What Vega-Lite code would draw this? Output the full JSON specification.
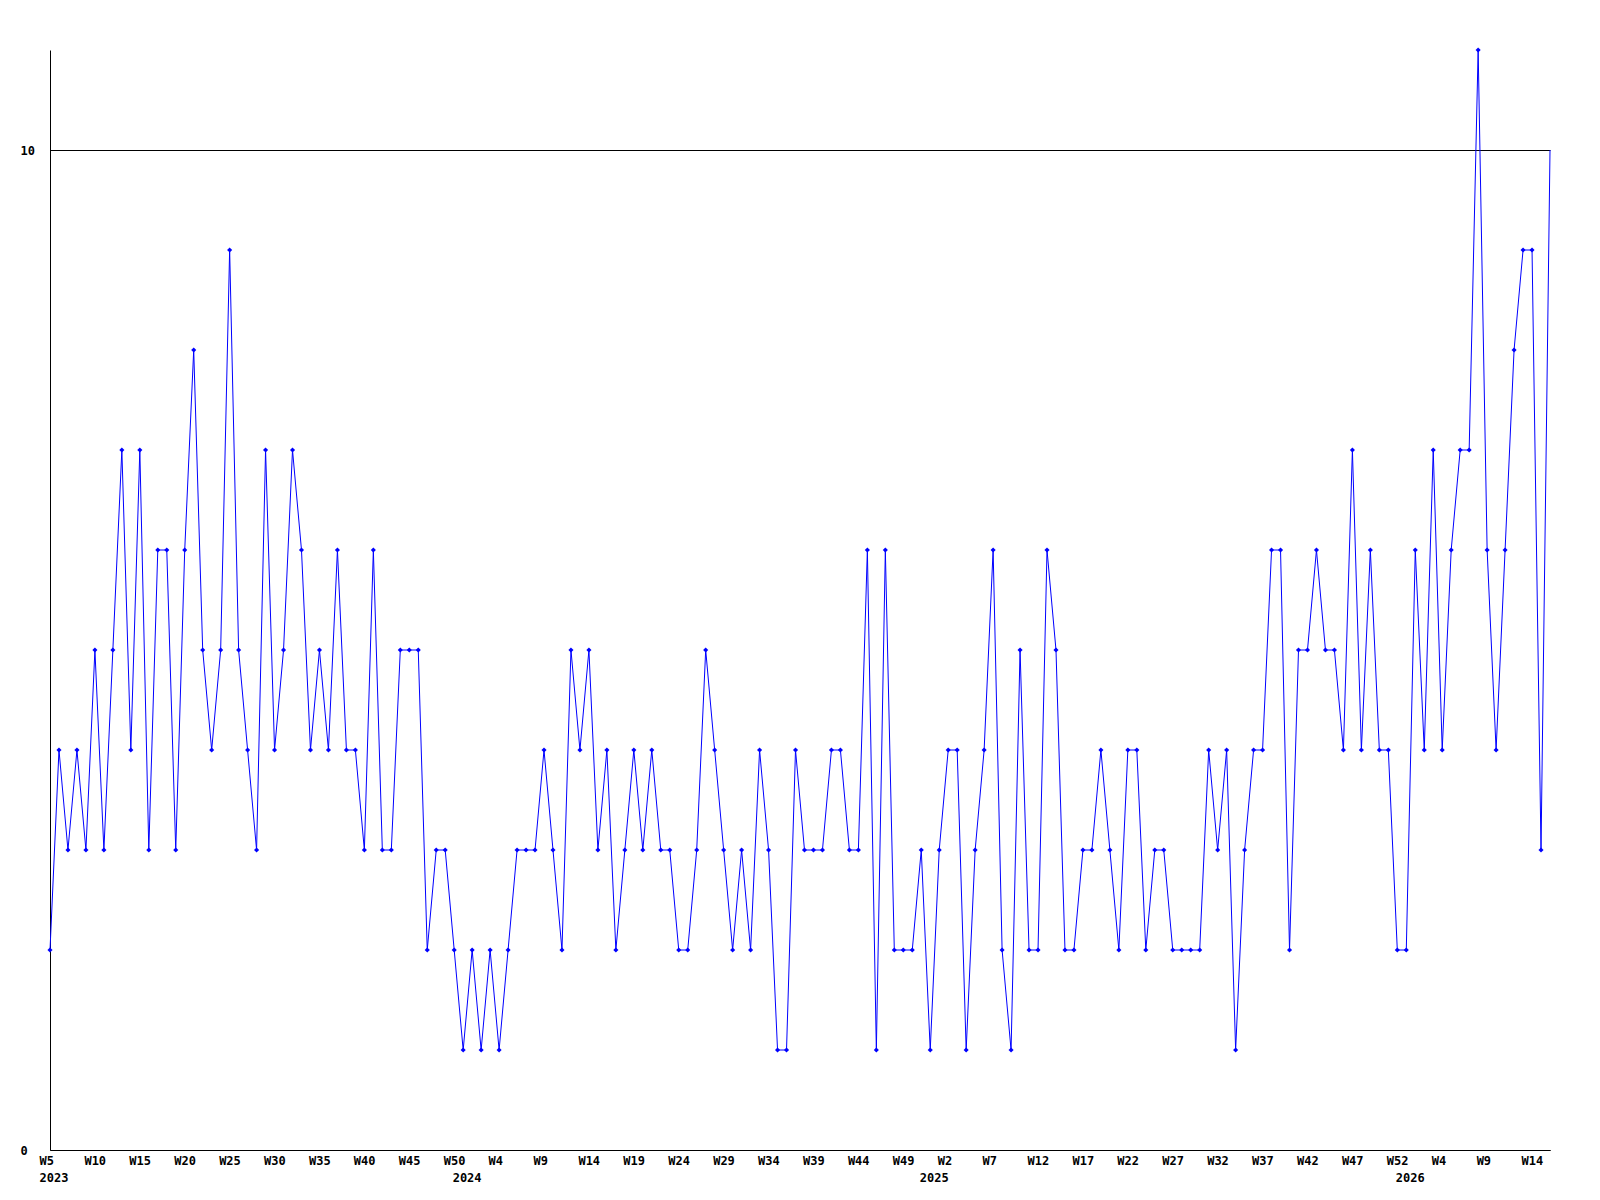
{
  "$schema": "https://vega.github.io/schema/vega-lite/v6.json",
  "width": 1500,
  "height": 1100,
  "autosize": {"type": "none"},
  "padding": {"left": 50, "top": 50, "right": 50, "bottom": 50},
  "background": "white",
  "config": {
    "view": {"stroke": null},
    "axis": {
      "labelFont": "DejaVu Sans Mono",
      "labelFontWeight": "bold",
      "labelFontSize": 12,
      "labelColor": "black",
      "domainColor": "black",
      "domainWidth": 1,
      "ticks": false,
      "tickSize": 0,
      "title": null
    }
  },
  "data": {
    "values": [
      {"week": "2023-W5", "v": 2}, {"week": "2023-W6", "v": 4}, {"week": "2023-W7", "v": 3}, {"week": "2023-W8", "v": 4}, {"week": "2023-W9", "v": 3},
      {"week": "2023-W10", "v": 5}, {"week": "2023-W11", "v": 3}, {"week": "2023-W12", "v": 5}, {"week": "2023-W13", "v": 7}, {"week": "2023-W14", "v": 4},
      {"week": "2023-W15", "v": 7}, {"week": "2023-W16", "v": 3}, {"week": "2023-W17", "v": 6}, {"week": "2023-W18", "v": 6}, {"week": "2023-W19", "v": 3},
      {"week": "2023-W20", "v": 6}, {"week": "2023-W21", "v": 8}, {"week": "2023-W22", "v": 5}, {"week": "2023-W23", "v": 4}, {"week": "2023-W24", "v": 5},
      {"week": "2023-W25", "v": 9}, {"week": "2023-W26", "v": 5}, {"week": "2023-W27", "v": 4}, {"week": "2023-W28", "v": 3}, {"week": "2023-W29", "v": 7},
      {"week": "2023-W30", "v": 4}, {"week": "2023-W31", "v": 5}, {"week": "2023-W32", "v": 7}, {"week": "2023-W33", "v": 6}, {"week": "2023-W34", "v": 4},
      {"week": "2023-W35", "v": 5}, {"week": "2023-W36", "v": 4}, {"week": "2023-W37", "v": 6}, {"week": "2023-W38", "v": 4}, {"week": "2023-W39", "v": 4},
      {"week": "2023-W40", "v": 3}, {"week": "2023-W41", "v": 6}, {"week": "2023-W42", "v": 3}, {"week": "2023-W43", "v": 3}, {"week": "2023-W44", "v": 5},
      {"week": "2023-W45", "v": 5}, {"week": "2023-W46", "v": 5}, {"week": "2023-W47", "v": 2}, {"week": "2023-W48", "v": 3}, {"week": "2023-W49", "v": 3},
      {"week": "2023-W50", "v": 2}, {"week": "2023-W51", "v": 1},
      {"week": "2024-W1", "v": 2}, {"week": "2024-W2", "v": 1}, {"week": "2024-W3", "v": 2}, {"week": "2024-W4", "v": 1}, {"week": "2024-W5", "v": 2},
      {"week": "2024-W6", "v": 3}, {"week": "2024-W7", "v": 3}, {"week": "2024-W8", "v": 3}, {"week": "2024-W9", "v": 4}, {"week": "2024-W10", "v": 3},
      {"week": "2024-W11", "v": 2}, {"week": "2024-W12", "v": 5}, {"week": "2024-W13", "v": 4}, {"week": "2024-W14", "v": 5}, {"week": "2024-W15", "v": 3},
      {"week": "2024-W16", "v": 4}, {"week": "2024-W17", "v": 2}, {"week": "2024-W18", "v": 3}, {"week": "2024-W19", "v": 4}, {"week": "2024-W20", "v": 3},
      {"week": "2024-W21", "v": 4}, {"week": "2024-W22", "v": 3}, {"week": "2024-W23", "v": 3}, {"week": "2024-W24", "v": 2}, {"week": "2024-W25", "v": 2},
      {"week": "2024-W26", "v": 3}, {"week": "2024-W27", "v": 5}, {"week": "2024-W28", "v": 4}, {"week": "2024-W29", "v": 3}, {"week": "2024-W30", "v": 2},
      {"week": "2024-W31", "v": 3}, {"week": "2024-W32", "v": 2}, {"week": "2024-W33", "v": 4}, {"week": "2024-W34", "v": 3}, {"week": "2024-W35", "v": 1},
      {"week": "2024-W36", "v": 1}, {"week": "2024-W37", "v": 4}, {"week": "2024-W38", "v": 3}, {"week": "2024-W39", "v": 3}, {"week": "2024-W40", "v": 3},
      {"week": "2024-W41", "v": 4}, {"week": "2024-W42", "v": 4}, {"week": "2024-W43", "v": 3}, {"week": "2024-W44", "v": 3}, {"week": "2024-W45", "v": 6},
      {"week": "2024-W46", "v": 1}, {"week": "2024-W47", "v": 6}, {"week": "2024-W48", "v": 2}, {"week": "2024-W49", "v": 2}, {"week": "2024-W50", "v": 2},
      {"week": "2024-W51", "v": 3}, {"week": "2024-W52", "v": 1},
      {"week": "2025-W1", "v": 3}, {"week": "2025-W2", "v": 4}, {"week": "2025-W3", "v": 4}, {"week": "2025-W4", "v": 1}, {"week": "2025-W5", "v": 3},
      {"week": "2025-W6", "v": 4}, {"week": "2025-W7", "v": 6}, {"week": "2025-W8", "v": 2}, {"week": "2025-W9", "v": 1}, {"week": "2025-W10", "v": 5},
      {"week": "2025-W11", "v": 2}, {"week": "2025-W12", "v": 2}, {"week": "2025-W13", "v": 6}, {"week": "2025-W14", "v": 5}, {"week": "2025-W15", "v": 2},
      {"week": "2025-W16", "v": 2}, {"week": "2025-W17", "v": 3}, {"week": "2025-W18", "v": 3}, {"week": "2025-W19", "v": 4}, {"week": "2025-W20", "v": 3},
      {"week": "2025-W21", "v": 2}, {"week": "2025-W22", "v": 4}, {"week": "2025-W23", "v": 4}, {"week": "2025-W24", "v": 2}, {"week": "2025-W25", "v": 3},
      {"week": "2025-W26", "v": 3}, {"week": "2025-W27", "v": 2}, {"week": "2025-W28", "v": 2}, {"week": "2025-W29", "v": 2}, {"week": "2025-W30", "v": 2},
      {"week": "2025-W31", "v": 4}, {"week": "2025-W32", "v": 3}, {"week": "2025-W33", "v": 4}, {"week": "2025-W34", "v": 1}, {"week": "2025-W35", "v": 3},
      {"week": "2025-W36", "v": 4}, {"week": "2025-W37", "v": 4}, {"week": "2025-W38", "v": 6}, {"week": "2025-W39", "v": 6}, {"week": "2025-W40", "v": 2},
      {"week": "2025-W41", "v": 5}, {"week": "2025-W42", "v": 5}, {"week": "2025-W43", "v": 6}, {"week": "2025-W44", "v": 5}, {"week": "2025-W45", "v": 5},
      {"week": "2025-W46", "v": 4}, {"week": "2025-W47", "v": 7}, {"week": "2025-W48", "v": 4}, {"week": "2025-W49", "v": 6}, {"week": "2025-W50", "v": 4},
      {"week": "2025-W51", "v": 4}, {"week": "2025-W52", "v": 2}, {"week": "2025-W53", "v": 2},
      {"week": "2026-W1", "v": 6}, {"week": "2026-W2", "v": 4}, {"week": "2026-W3", "v": 7}, {"week": "2026-W4", "v": 4}, {"week": "2026-W5", "v": 6},
      {"week": "2026-W6", "v": 7}, {"week": "2026-W7", "v": 7}, {"week": "2026-W8", "v": 11}, {"week": "2026-W9", "v": 6}, {"week": "2026-W10", "v": 4},
      {"week": "2026-W11", "v": 6}, {"week": "2026-W12", "v": 8}, {"week": "2026-W13", "v": 9}, {"week": "2026-W14", "v": 9}, {"week": "2026-W15", "v": 3},
      {"week": "2026-W16", "v": 10}
    ]
  },
  "encoding": {
    "x": {
      "field": "week",
      "type": "ordinal",
      "sort": null,
      "scale": {"type": "point", "padding": 0},
      "axis": {
        "values": ["2023-W5", "2023-W10", "2023-W15", "2023-W20", "2023-W25", "2023-W30", "2023-W35", "2023-W40", "2023-W45", "2023-W50",
                   "2023-W51", "2024-W4", "2024-W9", "2024-W14", "2024-W19", "2024-W24", "2024-W29", "2024-W34", "2024-W39", "2024-W44", "2024-W49",
                   "2024-W52", "2025-W2", "2025-W7", "2025-W12", "2025-W17", "2025-W22", "2025-W27", "2025-W32", "2025-W37", "2025-W42", "2025-W47", "2025-W52",
                   "2025-W53", "2026-W4", "2026-W9", "2026-W14"],
        "labelExpr": "datum.value == '2023-W5' ? ['W5', '2023'] : (datum.value == '2023-W51' ? ['\u00a0', '2024'] : (datum.value == '2024-W52' ? ['\u00a0', '2025'] : (datum.value == '2025-W53' ? ['\u00a0', '2026'] : slice(datum.value, 5))))",
        "labelAngle": 0,
        "labelAlign": "left",
        "labelOffset": -11,
        "labelOverlap": false,
        "labelBound": false,
        "labelFlush": false,
        "labelPadding": 5,
        "labelBaseline": "top",
        "labelLineHeight": 17,
        "grid": false,
        "title": null
      }
    },
    "y": {
      "field": "v",
      "type": "quantitative",
      "scale": {"domain": [0, 11], "nice": false, "zero": true},
      "axis": {
        "values": [0, 10],
        "grid": true,
        "gridColor": "black",
        "gridOpacity": 1,
        "gridWidth": 1,
        "labelAlign": "left",
        "labelPadding": 30,
        "labelBaseline": "middle",
        "title": null
      }
    }
  },
  "layer": [
    {"mark": {"type": "line", "color": "#0000ff", "strokeWidth": 1}},
    {
      "mark": {"type": "point", "shape": "diamond", "filled": true, "color": "#0000ff", "size": 26},
      "encoding": {"opacity": {"condition": {"test": "datum.week == '2026-W16'", "value": 0}, "value": 1}}
    }
  ]
}
